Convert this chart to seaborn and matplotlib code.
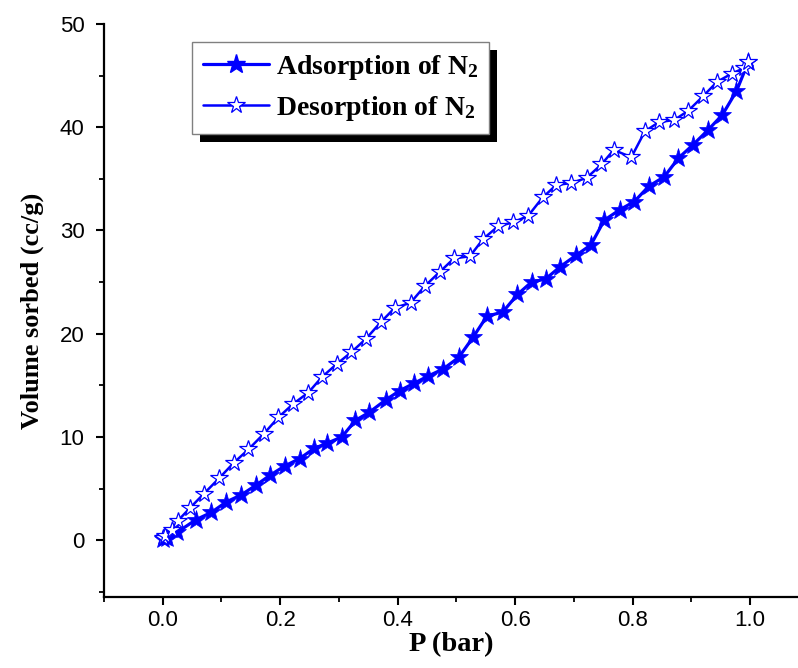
import matplotlib
matplotlib.use("Agg")
import matplotlib.pyplot as plt
import seaborn as sns
import pandas as pd
from matplotlib.lines import Line2D
from matplotlib.patches import Rectangle
from matplotlib.ticker import MultipleLocator

# ---- data ----
ads_p = [0.0, 0.004, 0.008, 0.024, 0.057, 0.083, 0.108, 0.134, 0.158, 0.183,
         0.208, 0.233, 0.258, 0.280, 0.305, 0.328, 0.352, 0.380, 0.404, 0.428,
         0.452, 0.478, 0.504, 0.529, 0.552, 0.579, 0.604, 0.628, 0.652, 0.677,
         0.704, 0.729, 0.752, 0.778, 0.803, 0.828, 0.854, 0.878, 0.903, 0.928,
         0.953, 0.977, 0.997]
ads_v = [0.1, 0.3, 0.2, 0.75, 2.0, 2.7, 3.7, 4.4, 5.3, 6.3,
         7.2, 7.9, 8.9, 9.4, 10.0, 11.6, 12.4, 13.6, 14.5, 15.2,
         15.9, 16.6, 17.7, 19.7, 21.7, 22.1, 23.8, 25.0, 25.3, 26.5,
         27.6, 28.6, 31.0, 32.0, 32.8, 34.3, 35.2, 37.0, 38.3, 39.7,
         41.2, 43.5, 46.3]

des_p = [0.0, 0.004, 0.015, 0.026, 0.046, 0.070, 0.096, 0.121, 0.146, 0.172,
         0.197, 0.222, 0.248, 0.271, 0.297, 0.321, 0.346, 0.371, 0.395, 0.422,
         0.446, 0.472, 0.496, 0.523, 0.546, 0.571, 0.597, 0.622, 0.647, 0.670,
         0.696, 0.722, 0.747, 0.768, 0.798, 0.821, 0.845, 0.871, 0.895, 0.920,
         0.944, 0.969, 0.989, 0.997]
des_v = [0.2, 0.4, 1.0, 1.9, 3.1, 4.5, 6.0, 7.5, 8.8, 10.3,
         11.9, 13.2, 14.3, 15.8, 17.1, 18.2, 19.5, 21.1, 22.5, 23.0,
         24.6, 26.0, 27.3, 27.5, 29.2, 30.4, 30.8, 31.4, 33.2, 34.4,
         34.6, 35.1, 36.4, 37.8, 37.1, 39.6, 40.5, 40.7, 41.6, 43.0,
         44.4, 45.2, 45.7, 46.3]

series_labels = ["Adsorption of N$_2$", "Desorption of N$_2$"]
x_label = "P (bar)"
y_label = "Volume sorbed (cc/g)"
x_ticks = [0.0, 0.2, 0.4, 0.6, 0.8, 1.0]
y_ticks = [0, 10, 20, 30, 40, 50]

# ---- style ----
sns.set_theme(style="white")
plt.rcParams["font.family"] = ["Liberation Sans", "DejaVu Sans"]
plt.rcParams["mathtext.default"] = "regular"

BLUE = "#0000FF"
SERIF = ["Liberation Serif", "DejaVu Serif"]

fig = plt.figure(figsize=(7.98, 6.68), dpi=100)
ax = fig.add_axes([104 / 798, 1 - 597 / 668, 694 / 798, 573 / 668])

ads_df = pd.DataFrame({"P": ads_p, "V": ads_v})
des_df = pd.DataFrame({"P": des_p, "V": des_v})

sns.lineplot(data=ads_df, x="P", y="V", ax=ax, sort=False, estimator=None,
             color=BLUE, lw=2.3, marker="*", markersize=14,
             markerfacecolor=BLUE, markeredgecolor=BLUE, markeredgewidth=0.5,
             zorder=3)
sns.lineplot(data=des_df, x="P", y="V", ax=ax, sort=False, estimator=None,
             color=BLUE, lw=1.8, marker="*", markersize=13,
             markerfacecolor="white", markeredgecolor=BLUE, markeredgewidth=0.9,
             zorder=3)

ax.set_xlim(-0.1, (798 - 163) / 587)
ax.set_ylim(-5.5, 50)
ax.set_xticks(x_ticks)
ax.set_yticks(y_ticks)
ax.set_xticklabels([f"{t:.1f}" for t in x_ticks])
ax.set_yticklabels([str(t) for t in y_ticks])
ax.xaxis.set_minor_locator(MultipleLocator(0.1))
ax.yaxis.set_minor_locator(MultipleLocator(5))

for side in ["top", "right"]:
    ax.spines[side].set_visible(False)
for side in ["left", "bottom"]:
    ax.spines[side].set_color("black")
    ax.spines[side].set_linewidth(1.6)

ax.tick_params(which="major", direction="out", length=6, width=1.5,
               color="black", labelsize=16, labelcolor="black",
               bottom=True, left=True)
ax.tick_params(axis="x", which="major", pad=3)
ax.tick_params(axis="y", which="major", pad=8)
ax.tick_params(which="minor", direction="out", length=3.5, width=1.3,
               color="black", bottom=True, left=True)

ax.set_xlabel(x_label, family=SERIF, weight="bold", size=20.5,
              color="black", labelpad=1)
ax.set_ylabel(y_label, family=SERIF, weight="bold", size=19,
              color="black", labelpad=11)

handles = [
    Line2D([], [], color=BLUE, lw=2.3, marker="*", markersize=14,
           markerfacecolor=BLUE, markeredgecolor=BLUE),
    Line2D([], [], color=BLUE, lw=1.8, marker="*", markersize=13,
           markerfacecolor="white", markeredgecolor=BLUE, markeredgewidth=0.9),
]
leg = ax.legend(handles, series_labels, loc="upper left",
                bbox_to_anchor=((192 - 104) / 694, 1 - (42 - 24) / 573),
                borderaxespad=0, frameon=True, fancybox=False, shadow=False,
                prop=dict(family=SERIF, weight="bold", size=20),
                handlelength=2.4, handletextpad=0.25, labelspacing=0.45,
                borderpad=0.38)
leg.get_frame().set_edgecolor("#808080")
leg.get_frame().set_linewidth(1.0)
leg.get_frame().set_alpha(1)
for t in leg.get_texts():
    t.set_color("black")

fig.canvas.draw()
renderer = fig.canvas.get_renderer()
bb = leg.get_frame().get_window_extent(renderer)
inv = fig.transFigure.inverted()
(x0, y0) = inv.transform((bb.x0 + 8, bb.y0 - 8))
(x1, y1) = inv.transform((bb.x1 + 8, bb.y1 - 8))
shadow = Rectangle((x0, y0), x1 - x0, y1 - y0, transform=fig.transFigure,
                   facecolor="black", edgecolor="none", zorder=4.5,
                   clip_on=False)
ax.add_patch(shadow)

fig.savefig("out.png", dpi=100, facecolor="white")
